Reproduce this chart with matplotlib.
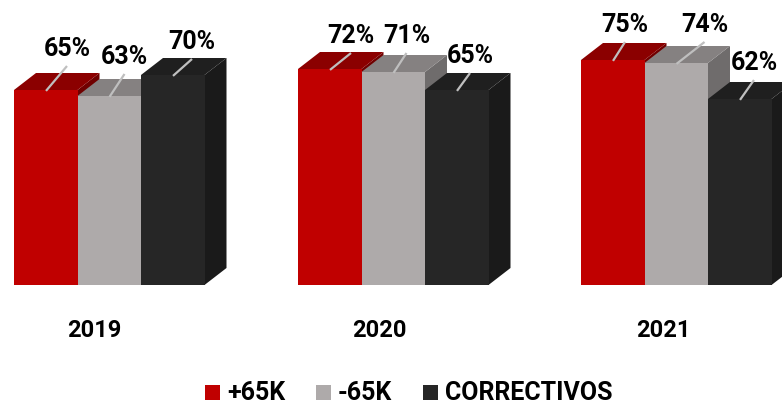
import matplotlib
matplotlib.use("Agg")
import matplotlib.pyplot as plt
from matplotlib.patches import Polygon, Rectangle

plt.rcParams["font.family"] = ["Roboto", "DejaVu Sans"]

# ---------------------------------------------------------------------------
# Data
# ---------------------------------------------------------------------------
years = ["2019", "2020", "2021"]
series = ["+65K", "-65K", "CORRECTIVOS"]
plus_65k = [65, 72, 75]
minus_65k = [63, 71, 74]
correctivos = [70, 65, 62]

# ---------------------------------------------------------------------------
# Layout / style (pixels, then converted)
# ---------------------------------------------------------------------------
W, H = 782, 406
BASE_PX = 286          # baseline from top
PX_PER_PCT = 3.0
GROUP_X0 = [14, 298, 581]
BAR_W = 63.5
DEPTH_X, DEPTH_Y = 22, 17 / PX_PER_PCT

front_cols = ["#C00000", "#AEAAAA", "#262626"]
top_cols = ["#8B0000", "#858181", "#1f1f1f"]
side_cols = ["#700000", "#6f6c6c", "#1a1a1a"]

# label offsets (px) from bar left edge / above front top
lab_dx = [[53, 47, 51], [53, 45, 45], [44, 60, 46]]
lab_dy = [[42, 40, 34], [34, 37, 35], [36, 39, 37]]


def py(px):
    """pixel row from top -> data y"""
    return (BASE_PX - px) / PX_PER_PCT


fig = plt.figure(figsize=(W / 100, H / 100), dpi=100)
ax = fig.add_axes([0, 0, 1, 1])
ax.set_xlim(0, W)
ax.set_ylim(py(H), py(0))
ax.axis("off")

values = [plus_65k, minus_65k, correctivos]

for g in range(len(years)):
    for s in range(len(series)):
        v = values[s][g]
        x0 = GROUP_X0[g] + s * BAR_W
        x1 = x0 + BAR_W
        # side face
        ax.add_patch(Polygon([(x1, 0), (x1 + DEPTH_X, DEPTH_Y),
                              (x1 + DEPTH_X, v + DEPTH_Y), (x1, v)],
                             closed=True, fc=side_cols[s], ec="none", zorder=2))
        # top face
        ax.add_patch(Polygon([(x0, v), (x0 + DEPTH_X, v + DEPTH_Y),
                              (x1 + DEPTH_X, v + DEPTH_Y), (x1, v)],
                             closed=True, fc=top_cols[s], ec="none", zorder=2))
        # front face
        ax.bar(x0, v, width=BAR_W, bottom=0, align="edge",
               color=front_cols[s], edgecolor="none", zorder=2)
        # label + leader line
        lx = x0 + lab_dx[g][s]
        ly = v + lab_dy[g][s] / PX_PER_PCT
        ax.plot([x0 + 32, lx], [v - 0.3, ly - 18 / PX_PER_PCT],
                color="#bfbfbf", lw=1.6, zorder=3, solid_capstyle="butt")
        ax.text(lx, ly, f"{v}%", ha="center", va="center",
                fontsize=18, fontweight="bold", color="black", zorder=4)

# year labels
year_x = [94, 379, 663]
for x, yr in zip(year_x, years):
    ax.text(x, py(331), yr, ha="center", va="center",
            fontsize=17, fontweight="bold", color="black")

# legend
leg_sq_x = [205, 316, 423]
leg_y = py(393)
for x, name, c in zip(leg_sq_x, series, front_cols):
    ax.add_patch(Rectangle((x, py(401)), 15, 15 / PX_PER_PCT,
                           fc=c, ec="none"))
    ax.text(x + 22, leg_y, name, ha="left", va="center",
            fontsize=18, fontweight="bold", color="black")

fig.savefig("out.png", dpi=100)
